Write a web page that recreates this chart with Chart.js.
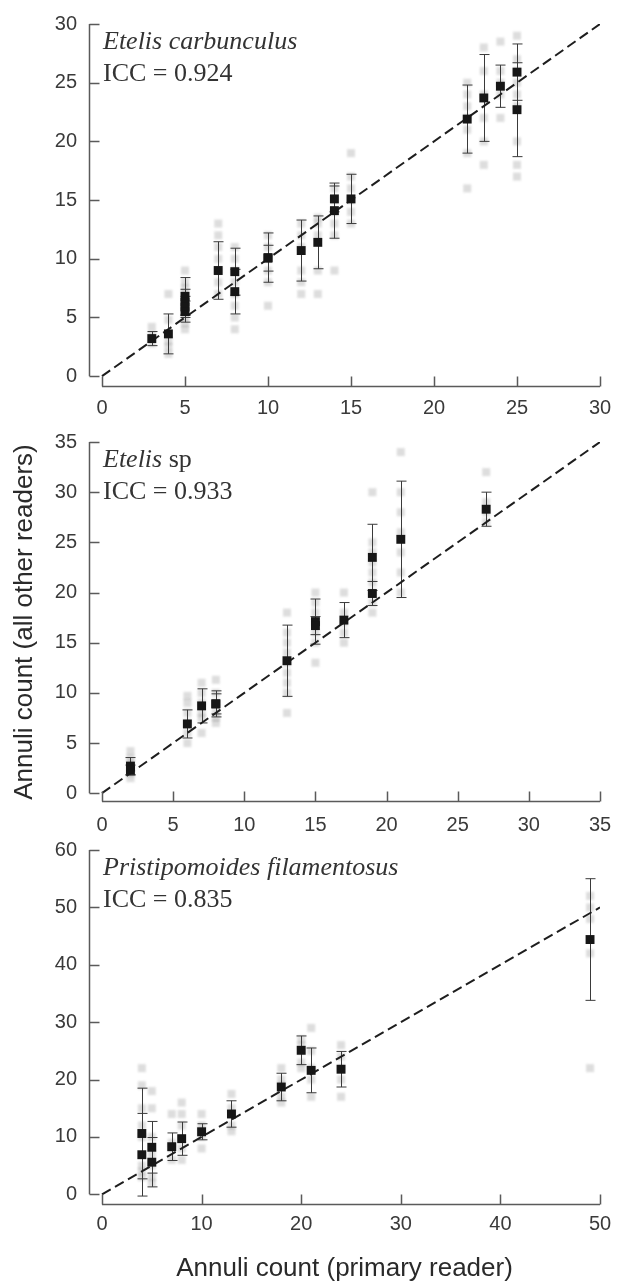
<!DOCTYPE html>
<html>
<head>
<meta charset="utf-8">
<script src="https://cdn.jsdelivr.net/npm/chart.js@4.4.1/dist/chart.umd.min.js"></script>
<style>
  html, body { margin: 0; padding: 0; background: #fff; }
  #wrap { position: relative; width: 625px; height: 1284px; overflow: hidden; }
  canvas { position: absolute; left: 0; }
</style>
</head>
<body>
<div id="wrap">
  <canvas id="chart1" width="625" height="432" style="top:0px"></canvas>
  <canvas id="chart2" width="625" height="432" style="top:418px"></canvas>
  <canvas id="chart3" width="625" height="458" style="top:826px"></canvas>
</div>
<script>
// Etelis carbunculus: mean of other readers (+/- SD) by primary reader count
const ecMeanAt = [3, 4, 5, 5, 5, 5, 7, 8, 8, 10, 10, 12, 13, 14, 14, 15, 22, 23, 24, 25, 25];
const ecMean = [3.2, 3.6, 6.8, 6.3, 5.9, 5.5, 9.0, 8.9, 7.2, 10.1, 10.05, 10.7, 11.4, 15.1, 14.1, 15.1, 21.9, 23.7, 24.7, 25.9, 22.7];
const ecSd = [0.6, 1.7, 1.6, 1.1, 0.9, 0.9, 2.45, 2.0, 1.9, 2.1, 1.1, 2.6, 2.25, 1.1, 2.35, 2.1, 2.9, 3.7, 1.8, 2.4, 4.0];
// individual reader counts (faint marks)
const ecReadAt = [3, 4, 5, 7, 8, 10, 12, 13, 14, 15, 22, 23, 24, 25];
const ecReads = [
  [2.8, 3.5, 4.2],
  [1.9, 2.5, 3.0, 4.8, 7.0],
  [4.0, 4.5, 5.0, 6.0, 7.0, 7.5, 8.0, 9.0],
  [7, 8, 9, 10, 11, 12, 13],
  [4, 5, 6, 7, 8, 9, 10, 11],
  [6, 8, 9, 10, 11, 12],
  [7, 8, 9, 11, 12, 13],
  [7, 9, 12, 13, 13.5],
  [9, 12, 13, 14, 15, 16],
  [13, 14, 15, 16, 17, 19],
  [16, 19, 21, 22, 23, 24, 25],
  [18, 20, 22, 24, 26, 28],
  [22, 24, 25, 26, 28.5],
  [17, 18, 20, 23, 24, 25, 26, 27, 29]
];

// Etelis sp
const esMeanAt = [2, 2, 6, 7, 8, 8, 13, 15, 15, 17, 19, 19, 21, 27];
const esMean = [2.7, 2.3, 6.9, 8.7, 8.9, 8.9, 13.2, 17.1, 16.7, 17.25, 23.5, 19.9, 25.3, 28.3];
const esSd = [0.85, 0.5, 1.4, 1.7, 1.3, 1.0, 3.55, 2.25, 0.9, 1.75, 3.3, 1.2, 5.8, 1.7];
const esReadAt = [2, 6, 7, 8, 13, 15, 17, 19, 21, 27];
const esReads = [
  [1.5, 2, 2.5, 3, 3.5, 4.2],
  [5, 6, 7, 8, 9, 9.7],
  [6, 7.5, 8, 9, 10, 11],
  [7, 7.5, 8, 9, 10, 11.3],
  [8, 10, 11, 12, 13, 14, 15, 16, 18],
  [13, 15, 16, 17, 18, 19, 20],
  [15, 16, 17, 18, 20],
  [18, 19, 20, 21, 22, 23, 24, 25, 30],
  [20, 22, 24, 26, 28, 30, 34],
  [27, 28, 29, 32]
];

// Pristipomoides filamentosus
const pfMeanAt = [4, 4, 5, 5, 7, 8, 10, 13, 18, 20, 21, 24, 49];
const pfMean = [10.6, 6.9, 8.2, 5.6, 8.3, 9.7, 10.9, 14.0, 18.7, 25.1, 21.6, 21.8, 44.4];
const pfSd = [7.9, 7.2, 4.5, 4.3, 2.4, 2.9, 1.4, 2.3, 2.4, 2.5, 3.9, 3.1, 10.6];
const pfReadAt = [4, 5, 7, 8, 10, 13, 18, 20, 21, 24, 49];
const pfReads = [
  [3, 4, 5, 10, 12, 15, 19, 22],
  [2, 3, 5, 7, 10, 15, 18],
  [6, 8, 9, 14],
  [6, 8, 12, 14, 16],
  [8, 10, 11, 12, 14],
  [11, 12, 14, 15, 17.5],
  [16, 17, 19, 20, 22],
  [22, 23, 25, 26, 27],
  [17, 20, 22, 25, 29],
  [17, 20, 22, 24, 26],
  [22, 42, 48, 50, 52]
];

// tick labels
const ecTicks = [0, 5, 10, 15, 20, 25, 30];
const esTicks = [0, 5, 10, 15, 20, 25, 30, 35];
const pfXTicks = [0, 10, 20, 30, 40, 50];
const pfYTicks = [0, 10, 20, 30, 40, 50, 60];

const sansFont = "'Liberation Sans', Arial, sans-serif";
const serifFont = "'Liberation Serif', 'Times New Roman', serif";
const axisColor = '#5a5a5a';

// soft grey square used as point style for the individual readings
const blob = document.createElement('canvas');
blob.width = 16;
blob.height = 16;
(function () {
    const c = blob.getContext('2d');
    c.filter = 'blur(1.2px)';
    c.fillStyle = 'rgba(125, 125, 125, 0.26)';
    c.fillRect(4, 4, 8, 8);
})();

function flatten(at, reads) {
    const pts = [];
    at.forEach((x, i) => reads[i].forEach(y => pts.push({ x: x, y: y })));
    return pts;
}

// axes lines with inward ticks, error bars and the species / ICC text
function framePlugin(italicPart, plainPart, icc, xTicks, yTicks) {
    return {
        id: 'frame',
        afterDatasetDraw(chart, args) {
            if (args.index !== 2) return;
            const ctx = chart.ctx;
            const xs = chart.scales.x, ys = chart.scales.y;
            ctx.save();
            ctx.strokeStyle = '#3a3a3a';
            ctx.lineWidth = 1;
            chart.data.datasets[0].data.forEach(p => {
                const px = Math.round(xs.getPixelForValue(p.x)) + 0.5;
                const top = ys.getPixelForValue(p.y + p.sd);
                const bot = ys.getPixelForValue(p.y - p.sd);
                ctx.beginPath();
                ctx.moveTo(px, top); ctx.lineTo(px, bot);
                ctx.moveTo(px - 5, top); ctx.lineTo(px + 5, top);
                ctx.moveTo(px - 5, bot); ctx.lineTo(px + 5, bot);
                ctx.stroke();
            });
            ctx.restore();
        },
        afterDraw(chart) {
            const ctx = chart.ctx;
            const xs = chart.scales.x, ys = chart.scales.y;
            const area = chart.chartArea;
            ctx.save();
            ctx.strokeStyle = axisColor;
            ctx.lineWidth = 1.5;
            // y axis
            const ax = area.left + 0.5;
            ctx.beginPath();
            ctx.moveTo(ax, ys.getPixelForValue(yTicks[yTicks.length - 1]));
            ctx.lineTo(ax, ys.getPixelForValue(0));
            yTicks.forEach(v => {
                const py = Math.round(ys.getPixelForValue(v)) + 0.5;
                ctx.moveTo(ax, py); ctx.lineTo(ax + 10, py);
            });
            // x axis
            const ay = area.bottom - 0.5;
            ctx.moveTo(xs.getPixelForValue(0), ay);
            ctx.lineTo(xs.getPixelForValue(xTicks[xTicks.length - 1]), ay);
            xTicks.forEach(v => {
                const px = Math.round(xs.getPixelForValue(v)) + 0.5;
                ctx.moveTo(px, ay); ctx.lineTo(px, ay - 10);
            });
            ctx.stroke();

            // annotation
            const tx = xs.getPixelForValue(0) + 1;
            ctx.fillStyle = '#333333';
            ctx.textBaseline = 'alphabetic';
            ctx.textAlign = 'left';
            ctx.font = 'italic 26px ' + serifFont;
            ctx.fillText(italicPart, tx, area.top + 25);
            if (plainPart) {
                const w = ctx.measureText(italicPart + ' ').width;
                ctx.font = '26px ' + serifFont;
                ctx.fillText(plainPart, tx + w, area.top + 25);
            }
            ctx.font = '26px ' + serifFont;
            ctx.fillText('ICC = ' + icc, tx, area.top + 57);
            ctx.restore();
        }
    };
}

function makePanel(cfg) {
    const meanPts = cfg.meanAt.map((x, i) => ({ x: x, y: cfg.mean[i], sd: cfg.sd[i] }));
    const xMax = cfg.xTicks[cfg.xTicks.length - 1];
    const yMax = cfg.yTicks[cfg.yTicks.length - 1];
    const lineMax = Math.min(xMax, yMax);
    new Chart(document.getElementById(cfg.id).getContext('2d'), {
        type: 'scatter',
        data: {
            datasets: [
                {
                    label: 'Mean',
                    data: meanPts,
                    pointStyle: 'rect',
                    pointRadius: 6.3,
                    pointBackgroundColor: '#161616',
                    pointBorderWidth: 0
                },
                {
                    label: '1:1',
                    data: [{ x: 0, y: 0 }, { x: lineMax, y: lineMax }],
                    showLine: true,
                    borderColor: '#1e1e1e',
                    borderWidth: 2,
                    borderDash: [10, 5],
                    pointRadius: 0
                },
                {
                    label: 'Readers',
                    data: flatten(cfg.readAt, cfg.reads),
                    pointStyle: blob,
                    pointRadius: 6
                }
            ]
        },
        options: {
            responsive: false,
            animation: false,
            layout: {
                padding: { top: cfg.padTop, right: 25, left: 0, bottom: 0 }
            },
            scales: {
                x: {
                    type: 'linear',
                    min: cfg.xMin,
                    max: xMax,
                    afterBuildTicks: s => { s.ticks = cfg.xTicks.map(v => ({ value: v })); },
                    afterFit: s => { s.height = cfg.xAxisH; },
                    grid: { display: false, drawTicks: false },
                    border: { display: false },
                    title: {
                        display: !!cfg.xTitle,
                        text: cfg.xTitle || '',
                        color: '#2a2a2a',
                        font: { family: sansFont, size: 26 },
                        padding: { top: 0, bottom: 0 }
                    },
                    ticks: {
                        padding: cfg.xPad,
                        color: '#3a3a3a',
                        autoSkip: false,
                        maxRotation: 0,
                        font: { family: sansFont, size: 20 },
                        callback: v => String(v)
                    }
                },
                y: {
                    type: 'linear',
                    min: cfg.yMin,
                    max: yMax,
                    afterBuildTicks: s => { s.ticks = cfg.yTicks.map(v => ({ value: v })); },
                    afterFit: s => { s.width = 89; },
                    grid: { display: false, drawTicks: false },
                    border: { display: false },
                    title: {
                        display: !!cfg.yTitle,
                        text: cfg.yTitle || '',
                        color: '#2a2a2a',
                        font: { family: sansFont, size: 26 },
                        padding: { top: 9, bottom: 0 }
                    },
                    ticks: {
                        padding: 12,
                        color: '#3a3a3a',
                        autoSkip: false,
                        font: { family: sansFont, size: 20 },
                        callback: v => String(v)
                    }
                }
            },
            plugins: {
                legend: { display: false },
                tooltip: { enabled: false }
            }
        },
        plugins: [framePlugin(cfg.italic, cfg.plain, cfg.icc, cfg.xTicks, cfg.yTicks)]
    });
}

makePanel({
    id: 'chart1', italic: 'Etelis carbunculus', plain: '', icc: '0.924',
    meanAt: ecMeanAt, mean: ecMean, sd: ecSd, readAt: ecReadAt, reads: ecReads,
    xTicks: ecTicks, yTicks: ecTicks, xMin: -0.783, yMin: -0.924,
    padTop: 19, xAxisH: 45, xPad: 9
});
makePanel({
    id: 'chart2', italic: 'Etelis', plain: 'sp', icc: '0.933',
    meanAt: esMeanAt, mean: esMean, sd: esSd, readAt: esReadAt, reads: esReads,
    xTicks: esTicks, yTicks: esTicks, xMin: -0.914, yMin: -0.88,
    padTop: 17, xAxisH: 48, xPad: 11,
    yTitle: 'Annuli count (all other readers)'
});
makePanel({
    id: 'chart3', italic: 'Pristipomoides filamentosus', plain: '', icc: '0.835',
    meanAt: pfMeanAt, mean: pfMean, sd: pfSd, readAt: pfReadAt, reads: pfReads,
    xTicks: pfXTicks, yTicks: pfYTicks, xMin: -1.305, yMin: -1.859,
    padTop: 13, xAxisH: 79, xPad: 7,
    xTitle: 'Annuli count (primary reader)'
});
</script>
</body>
</html>
